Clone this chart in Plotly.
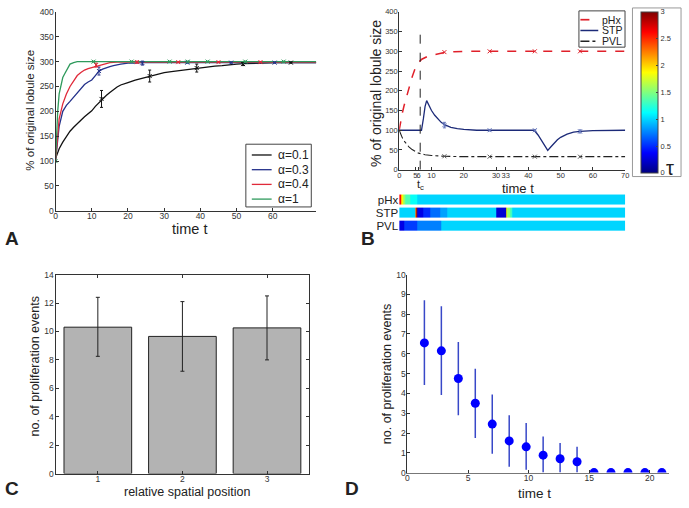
import plotly.graph_objects as go

W, H = 689, 508
def px(x): return x / W
def py(y): return 1 - y / H

FONT = "Liberation Sans, Arial, sans-serif"
AX = "#333333"

# ---------------- Panel A data ----------------
a_t_01 = [0, 0.5, 1, 2, 3, 4, 5, 6, 7, 8, 9, 10, 11, 12, 13, 14, 15, 16, 17, 18, 19, 20, 22, 24, 26, 28, 30, 32, 34, 36, 38, 40, 42, 44, 46, 48, 50, 52, 55, 58, 61, 65, 72]
a_y_01 = [105, 115, 125, 138, 150, 160, 168, 176, 182, 189, 195, 201, 210, 218, 225, 232, 238, 244, 249, 253, 256, 258, 263, 267, 271, 275, 278, 280, 282, 283, 285, 287, 289, 291, 292, 294, 295, 296, 297, 297, 298, 298, 298]
a_t_03 = [0, 0.5, 1, 2, 3, 4, 5, 6, 7, 8, 9, 10, 11, 12, 13, 14, 15, 16, 17, 18, 19, 20, 22, 24, 30, 40, 50, 72]
a_y_03 = [100, 140, 170, 200, 212, 220, 228, 238, 246, 254, 259, 263, 272, 281, 285, 288, 290, 292, 294, 295, 296, 297, 297, 298, 298, 298, 298, 298]
a_t_04 = [0, 0.5, 1, 2, 3, 4, 5, 6, 7, 8, 9, 10, 11, 12, 13, 14, 15, 17, 20, 72]
a_y_04 = [100, 150, 185, 215, 235, 250, 262, 272, 278, 283, 286, 288, 291, 293, 294, 296, 298, 299, 299, 299]
a_t_1 = [0, 0.3, 0.6, 1, 1.5, 2, 2.5, 3, 3.5, 4, 5, 6, 8, 72]
a_y_1 = [100, 160, 200, 235, 255, 268, 275, 282, 290, 295, 298, 300, 300, 300]

a_err_t_01 = [12.7, 26, 39, 51.8, 65]
a_err_y_01 = [225, 271, 287, 295, 298]
a_err_e_01 = [17, 12, 8, 3, 1]
a_err_t_03 = [12, 24, 36.4, 48.5, 60.5]
a_err_y_03 = [281, 297, 298, 298, 298]
a_err_e_03 = [8, 4, 1, 1, 1]
a_err_t_04 = [11.2, 22.5, 33.9, 45, 56.6]
a_err_y_04 = [293, 299, 299, 299, 299]
a_err_e_04 = [4, 2, 1, 1, 1]
a_err_t_1 = [0, 10.5, 21, 31.5, 36.5, 42, 52.4, 63]
a_err_y_1 = [100, 300, 300, 300, 300, 300, 300, 300]
a_err_e_1 = [1, 1, 1, 1, 1, 1, 1, 1]

a_names = ["α=0.1", "α=0.3", "α=0.4", "α=1"]
a_colors = ["#111111", "#24318a", "#e02a3a", "#2f9a5c"]

# ---------------- Panel B data ----------------
b_t_phx = [0, 0.5, 1, 1.5, 2, 2.5, 3, 3.5, 4, 5, 6, 7, 8, 9, 10, 12, 14, 17, 20, 30, 40, 50, 60, 70]
b_y_phx = [100, 125, 145, 162, 178, 192, 207, 220, 235, 258, 272, 280, 285, 288, 290, 294, 297, 299, 300, 300, 300, 300, 300, 300]
b_t_stp = [0, 6.9, 7.5, 8, 8.5, 9, 10, 11, 12, 13, 14, 16, 18, 20, 24, 41.8, 43, 44, 45, 46, 47, 48, 49, 50, 52, 54, 56, 60, 65, 70]
b_y_stp = [100, 100, 130, 160, 175, 165, 150, 138, 128, 120, 114, 107, 104, 102, 100, 100, 88, 74, 60, 49, 58, 68, 76, 82, 90, 95, 97, 99, 100, 100]
b_t_pvl = [0, 0.5, 1, 1.5, 2, 3, 4, 5, 6, 7, 8, 10, 12, 14, 20, 70]
b_y_pvl = [100, 88, 80, 73, 67, 58, 51, 46, 42, 40, 38, 36, 35, 34, 33, 33]
b_err_t = [14, 28, 42, 56]
b_err_phx = [298, 300, 300, 300]
b_err_stp = [113, 100, 100, 97]
b_err_stp_e = [7, 2, 2, 4]
b_err_pvl = [34, 33, 33, 33]
b_tc = 6.5
b_xticks = [0, 5, 6, 10, 20, 30, 33, 40, 50, 60, 70]
b_names = ["pHx", "STP", "PVL"]
b_colors = ["#e0202a", "#1c2a78", "#222222"]
b_dash = ["dash", "solid", "dashdot"]

# strips (tau), x edges and values
s_phx_edges = [0, 0.5, 1.1, 2.0, 3.5, 5.5, 70]
s_phx_tau = [2.6, 1.9, 1.55, 1.35, 1.15, 1.0]
s_stp_edges = [0, 4.8, 5.2, 5.7, 7.5, 9.6, 12.7, 14.8, 30, 33, 33.5, 34.5, 35, 70]
s_stp_tau = [1.0, 2.3, 2.9, 0.3, 0.5, 0.7, 0.85, 1.0, 0.25, 1.9, 1.55, 1.3, 1.0]
s_pvl_edges = [0, 1.4, 5.5, 12.9, 70]
s_pvl_tau = [0.3, 0.55, 0.75, 1.0]
strip_names = ["pHx", "STP", "PVL"]

jet = [[0, "rgb(0,0,128)"], [0.125, "rgb(0,0,255)"], [0.375, "rgb(0,255,255)"],
       [0.625, "rgb(255,255,0)"], [0.875, "rgb(255,0,0)"], [1, "rgb(128,0,0)"]]

# ---------------- Panel C data ----------------
c_pos = [1, 2, 3]
c_val = [10.3, 9.65, 10.25]
c_hi = [12.4, 12.1, 12.5]
c_lo = [8.25, 7.2, 8.0]

# ---------------- Panel D data ----------------
d_t = [1.4, 2.8, 4.2, 5.6, 7.0, 8.4, 9.8, 11.2, 12.6, 14.0, 15.4, 16.8, 18.2, 19.6, 21.0]
d_val = [6.55, 6.15, 4.75, 3.5, 2.45, 1.6, 1.3, 0.88, 0.7, 0.55, 0, 0, 0, 0, 0]
d_hi = [8.7, 8.4, 6.6, 5.25, 3.95, 2.9, 2.5, 1.82, 1.5, 1.3, 0, 0, 0, 0, 0]
d_lo = [4.42, 3.92, 2.9, 1.75, 0.95, 0.3, 0.15, 0, 0, 0, 0, 0, 0, 0, 0]

fig = go.Figure()

# ---- A
a_lines = [(a_t_01, a_y_01), (a_t_03, a_y_03), (a_t_04, a_y_04), (a_t_1, a_y_1)]
a_errs = [(a_err_t_01, a_err_y_01, a_err_e_01), (a_err_t_03, a_err_y_03, a_err_e_03),
          (a_err_t_04, a_err_y_04, a_err_e_04), (a_err_t_1, a_err_y_1, a_err_e_1)]
for i in range(4):
    t, y = a_lines[i]
    fig.add_trace(go.Scatter(x=t, y=y, mode="lines", name=a_names[i], showlegend=False,
                             line=dict(color=a_colors[i], width=1.3),
                             xaxis="x", yaxis="y"))
for i in range(4):
    t, y, e = a_errs[i]
    fig.add_trace(go.Scatter(x=t, y=y, mode="markers", showlegend=False,
                             marker=dict(symbol="x-thin", size=4, line=dict(color=a_colors[i], width=1)),
                             error_y=dict(type="data", array=e, color=a_colors[i], thickness=1, width=1.5),
                             xaxis="x", yaxis="y"))

# ---- B
b_lines = [(b_t_phx, b_y_phx), (b_t_stp, b_y_stp), (b_t_pvl, b_y_pvl)]
b_widths = [1.5, 1.3, 1.1]
for i in range(3):
    t, y = b_lines[i]
    fig.add_trace(go.Scatter(x=t, y=y, mode="lines", name=b_names[i], showlegend=False,
                             line=dict(color=b_colors[i], width=b_widths[i], dash=b_dash[i]),
                             xaxis="x2", yaxis="y2"))
for yy, col, ee in [(b_err_phx, "#e0202a", None), (b_err_stp, "#6677bb", b_err_stp_e), (b_err_pvl, "#555555", None)]:
    fig.add_trace(go.Scatter(x=b_err_t, y=yy, mode="markers", showlegend=False,
                             marker=dict(symbol="x-thin", size=4, line=dict(color=col, width=1)),
                             error_y=(dict(type="data", array=ee, color=col, thickness=1, width=1.5) if ee else None),
                             xaxis="x2", yaxis="y2"))
fig.add_trace(go.Scatter(x=[b_tc, b_tc], y=[0, 350], mode="lines", showlegend=False,
                         line=dict(color="#222222", width=1, dash="dash"), xaxis="x2", yaxis="y2"))

strips = [(s_phx_edges, s_phx_tau), (s_stp_edges, s_stp_tau), (s_pvl_edges, s_pvl_tau)]
for r, (edges, tau) in enumerate(strips):
    fig.add_trace(go.Heatmap(x=edges, y=[r - 0.4, r + 0.4], z=[tau], zmin=0, zmax=3,
                             colorscale=jet, showscale=(r == 0), xaxis="x3", yaxis="y3",
                             hoverinfo="skip",
                             colorbar=dict(x=px(645), xanchor="left", y=py(7), yanchor="top",
                                           len=164 / H, lenmode="fraction", thickness=17,
                                           thicknessmode="pixels", outlinewidth=1, outlinecolor="#444",
                                           xpad=0, ypad=0, ticks="inside", ticklen=2,
                                           tickvals=[0, 0.5, 1, 1.5, 2, 2.5, 3],
                                           ticktext=["0", "0.5", "1", "1.5", "2", "2.5", "3"],
                                           tickfont=dict(size=7.5, color=AX, family=FONT))))

# ---- C
fig.add_trace(go.Bar(x=c_pos, y=c_val, width=0.8, showlegend=False,
                     marker=dict(color="#b3b3b3", line=dict(color="#222222", width=1)),
                     error_y=dict(type="data", symmetric=False,
                                  array=[h - v for h, v in zip(c_hi, c_val)],
                                  arrayminus=[v - l for l, v in zip(c_lo, c_val)],
                                  color="#222222", thickness=1, width=2),
                     xaxis="x4", yaxis="y4"))

# ---- D
fig.add_trace(go.Scatter(x=d_t, y=d_val, mode="markers", showlegend=False,
                         marker=dict(color="#0000ff", size=9),
                         error_y=dict(type="data", symmetric=False,
                                      array=[h - v for h, v in zip(d_hi, d_val)],
                                      arrayminus=[v - l for l, v in zip(d_lo, d_val)],
                                      color="#3848c8", thickness=1.5, width=0),
                         xaxis="x5", yaxis="y5"))

def axis(domain, rng, tickvals=None, dtick=None, mirror=False, size=8.5, standoff=0, **kw):
    d = dict(domain=domain, range=rng, showline=True, linecolor=AX, linewidth=1,
             ticks="inside", ticklen=3, tickcolor=AX, showgrid=False, zeroline=False,
             mirror=("ticks" if mirror else False), tickangle=0,
             ticklabelstandoff=standoff,
             tickfont=dict(size=size, color=AX, family=FONT))
    if tickvals is not None:
        d["tickvals"] = tickvals
    if dtick is not None:
        d["dtick"] = dtick
        d["tick0"] = 0
    d.update(kw)
    return d

shapes = [dict(type="rect", xref="paper", yref="paper", x0=px(636), x1=px(685),
               y0=py(175), y1=py(3), line=dict(color="#999", width=1))]
annotations = []

def text(t, x, y, size, angle=0, xanchor="center", color="#222"):
    annotations.append(dict(text=t, x=px(x), y=py(y), xref="paper", yref="paper",
                            showarrow=False, xanchor=xanchor, yanchor="middle",
                            textangle=angle, font=dict(size=size, color=color, family=FONT)))

# legend A (box + samples + labels)
shapes.append(dict(type="rect", xref="paper", yref="paper", x0=px(246), x1=px(312),
                   y0=py(206), y1=py(142), line=dict(color="#444", width=1), fillcolor="white", layer="above"))
for i, nm in enumerate(a_names):
    yy = 153 + 15 * i
    shapes.append(dict(type="line", xref="paper", yref="paper", x0=px(252), x1=px(272),
                       y0=py(yy), y1=py(yy), line=dict(color=a_colors[i], width=1.3), layer="above"))
    text(nm, 276, yy, 12, xanchor="left")

# legend B
shapes.append(dict(type="rect", xref="paper", yref="paper", x0=px(582), x1=px(628.5),
                   y0=py(43), y1=py(6), line=dict(color="#444", width=1), fillcolor="white", layer="above"))
for i, nm in enumerate(b_names):
    yy = 15 + 11 * i
    shapes.append(dict(type="line", xref="paper", yref="paper", x0=px(583.5), x1=px(601.5),
                       y0=py(yy), y1=py(yy), line=dict(color=b_colors[i], width=b_widths[i] + 0.2,
                                                       dash=b_dash[i]), layer="above"))
    text(nm, 603.5, yy, 10.5, xanchor="left")

fig.update_layout(
    width=W, height=H, margin=dict(l=0, r=0, t=0, b=0),
    paper_bgcolor="white", plot_bgcolor="white", showlegend=False,
    font=dict(family=FONT, color=AX),
    xaxis=axis([px(54), px(317)], [0, 72], tickvals=[0, 10, 20, 30, 40, 50, 60], anchor="y", standoff=-3),
    yaxis=axis([py(210), py(7)], [0, 400], dtick=50, anchor="x", standoff=-1),
    xaxis2=axis([px(400.7), px(628.7)], [0, 70], tickvals=b_xticks, size=7.5, anchor="y2", standoff=-2),
    yaxis2=axis([py(168), py(7)], [0, 400], dtick=50, size=7.5, anchor="x2", standoff=-1),
    xaxis3=dict(domain=[px(400.7), px(628.7)], range=[0, 70], visible=False, anchor="y3"),
    yaxis3=dict(domain=[py(232), py(192)], range=[2.5, -0.5], tickvals=[0, 1, 2],
                ticktext=strip_names, showline=False, showgrid=False, zeroline=False,
                ticks="", tickfont=dict(size=11.5, color="#222", family=FONT), anchor="x3"),
    xaxis4=axis([px(54), px(310)], [0.5, 3.5], tickvals=c_pos, mirror=True, anchor="y4", standoff=-3),
    yaxis4=axis([py(478), py(275)], [0, 14], dtick=2, mirror=True, anchor="x4", standoff=-1),
    xaxis5=axis([px(409), px(673)], [0, 21.6], tickvals=[0, 5, 10, 15, 20], anchor="y5",
                linecolor="#777777", standoff=-3),
    yaxis5=axis([py(477), py(275)], [0, 10], dtick=1, anchor="x5", standoff=-1),
    shapes=shapes,
)

# panel letters
text("<b>A</b>", 10, 238, 19)
text("<b>B</b>", 369, 238, 19)
text("<b>C</b>", 10, 493, 19)
text("<b>D</b>", 353, 493, 19)
# axis titles
text("time t", 189, 229, 14.5)
text("% of original lobule size", 28, 107, 11.5, angle=-90)
text("time t", 521, 187, 13)
text("% of original lobule size", 378, 90, 14, angle=-90)
text("relative spatial position", 187, 497, 12.5)
text("no. of proliferation events", 33, 369, 12.5, angle=-90)
text("time t", 537, 498, 13.5)
text("no. of proliferation events", 388, 377, 12.5, angle=-90)
text("τ", 674, 166, 20)
annotations.append(dict(text="t<sub>c</sub>", x=b_tc, y=py(184), xref="x2", yref="paper",
                        showarrow=False, xanchor="center", yanchor="middle",
                        font=dict(size=11, color="#222", family=FONT)))
fig.update_layout(annotations=annotations)

fig.write_html("out.html", config={"displayModeBar": False},
               post_script="document.body.style.margin='0';document.body.style.overflow='hidden';")
